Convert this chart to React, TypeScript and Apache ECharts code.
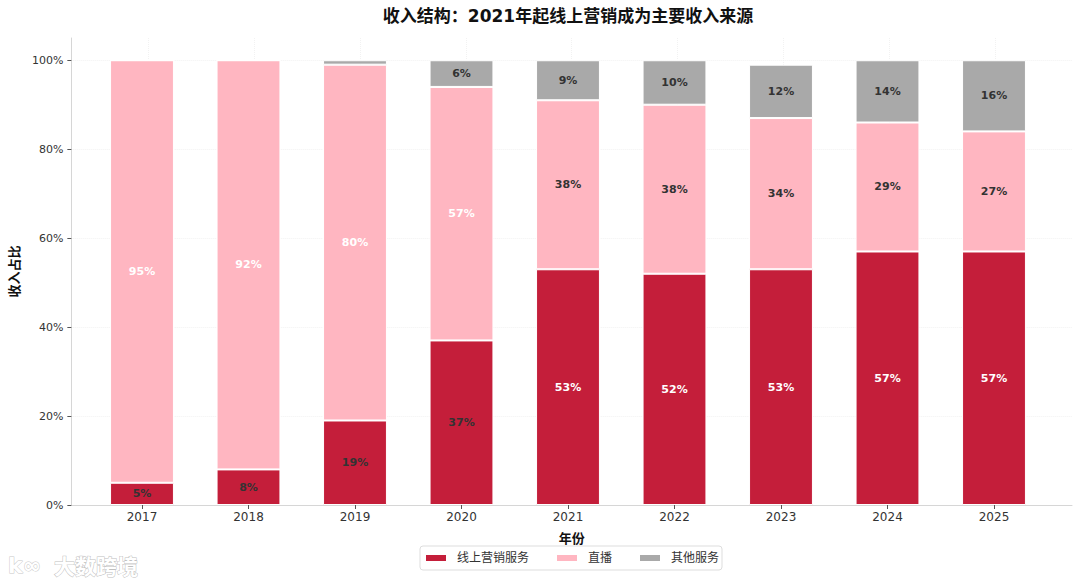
import React, { useEffect, useRef } from "react";
import * as echarts from "echarts";

const years = ["2017", "2018", "2019", "2020", "2021", "2022", "2023", "2024", "2025"];
const onlineMarketing = [5, 8, 19, 37, 53, 52, 53, 57, 57];
const liveStream = [95, 92, 80, 57, 38, 38, 34, 29, 27];
const otherServices = [0, 0, 1, 6, 9, 10, 12, 14, 16];
const yTicks = [0, 20, 40, 60, 80, 100];

const FONT = "DejaVu Sans, Noto Sans CJK SC, sans-serif";

function buildData(values: number[]) {
  return values.map((v) => ({
    value: v,
    label: { color: v > 45 ? "#ffffff" : "#333333", show: v >= 3 },
  }));
}

export default function App() {
  const ref = useRef<HTMLDivElement>(null);
  useEffect(() => {
    document.body.style.margin = "0";
    const chart = echarts.init(ref.current!, undefined, { renderer: "svg" });
    const mkSeries = (name: string, values: number[], color: string) => ({
      name,
      type: "bar",
      stack: "total",
      xAxisIndex: 1,
      yAxisIndex: 1,
      barWidth: "60%",
      data: buildData(values),
      itemStyle: { color, borderColor: "#ffffff", borderWidth: 1 },
      label: {
        show: true,
        position: "inside",
        fontFamily: FONT,
        fontSize: 11,
        fontWeight: "bold",
        formatter: (p: any) => `${p.value}%`,
      },
    });
    const tickIdx = years.map((_, i) => i);
    chart.setOption({
      animation: false,
      backgroundColor: "#ffffff",
      textStyle: { fontFamily: FONT },
      grid: [
        { left: 64, right: 8, top: 38, bottom: 79 },
        { left: 88.75, right: 32.75, top: 38, bottom: 79 },
      ],
      xAxis: [
        {
          type: "value",
          gridIndex: 0,
          min: -0.73,
          max: 8.73,
          name: "年份",
          nameLocation: "middle",
          nameGap: 27,
          nameTextStyle: { fontFamily: FONT, fontSize: 13, fontWeight: "bold", color: "#111" },
          axisLine: { show: true, onZero: false, lineStyle: { color: "#d6d6d6", width: 1 } },
          axisTick: { show: false, customValues: tickIdx },
          axisLabel: { show: false, customValues: tickIdx },
          splitLine: { show: true, lineStyle: { color: "#f2f2f2", type: "dotted", width: 1 } },
        },
        {
          type: "category",
          gridIndex: 1,
          data: years,
          axisLine: { show: false, onZero: false },
          axisTick: { show: true, alignWithLabel: true, length: 4, lineStyle: { color: "#555" } },
          axisLabel: { fontFamily: FONT, fontSize: 12, color: "#333", margin: 6 },
          splitLine: { show: false },
        },
      ],
      yAxis: [
        {
          type: "value",
          gridIndex: 0,
          min: 0,
          max: 105,
          name: "收入占比",
          nameLocation: "middle",
          nameRotate: 90,
          nameGap: 42,
          nameTextStyle: { fontFamily: FONT, fontSize: 13, fontWeight: "bold", color: "#111" },
          axisLine: { show: true, onZero: false, lineStyle: { color: "#d6d6d6", width: 1 } },
          axisTick: { show: true, length: 4, customValues: yTicks, lineStyle: { color: "#555" } },
          axisLabel: {
            customValues: yTicks,
            formatter: (v: number) => `${v}%`,
            fontFamily: FONT,
            fontSize: 11,
            color: "#333",
            margin: 8,
          },
          splitLine: { show: true, lineStyle: { color: "#f2f2f2", type: "dotted", width: 1 } },
        },
        {
          type: "value",
          gridIndex: 1,
          min: 0,
          max: 105,
          axisLine: { show: false },
          axisTick: { show: false },
          axisLabel: { show: false },
          splitLine: { show: false },
        },
      ],
      legend: {
        left: 420,
        top: 546,
        itemWidth: 22,
        itemHeight: 8,
        itemGap: 26,
        borderColor: "#dddddd",
        borderWidth: 1,
        borderRadius: 3,
        padding: [6, 3, 6, 4],
        icon: "rect",
        textStyle: { fontFamily: FONT, fontSize: 12, color: "#333", padding: [0, 0, 0, 5] },
        data: ["线上营销服务", "直播", "其他服务"],
      },
      graphic: [
        {
          type: "text",
          x: 568,
          y: 16,
          style: {
            text: "收入结构：2021年起线上营销成为主要收入来源",
            align: "center",
            verticalAlign: "middle",
            font: `bold 17px ${FONT}`,
            fill: "#111",
          },
        },
        {
          type: "text",
          x: 8,
          y: 565,
          style: {
            text: "k∞",
            verticalAlign: "middle",
            font: `bold 22px ${FONT}`,
            fill: "#ffffff",
            stroke: "#c8c8c8",
            lineWidth: 1,
          },
        },
        {
          type: "text",
          x: 54,
          y: 565,
          style: {
            text: "大数跨境",
            verticalAlign: "middle",
            font: `bold 21px Noto Sans CJK SC, sans-serif`,
            fill: "#ffffff",
            stroke: "#c0c0c0",
            lineWidth: 1,
          },
        },
      ],
      series: [
        mkSeries("线上营销服务", onlineMarketing, "#C41E3A"),
        mkSeries("直播", liveStream, "#FFB6C1"),
        mkSeries("其他服务", otherServices, "#A9A9A9"),
      ],
    });
    return () => chart.dispose();
  }, []);
  return <div ref={ref} style={{ width: 1080, height: 584 }} />;
}
